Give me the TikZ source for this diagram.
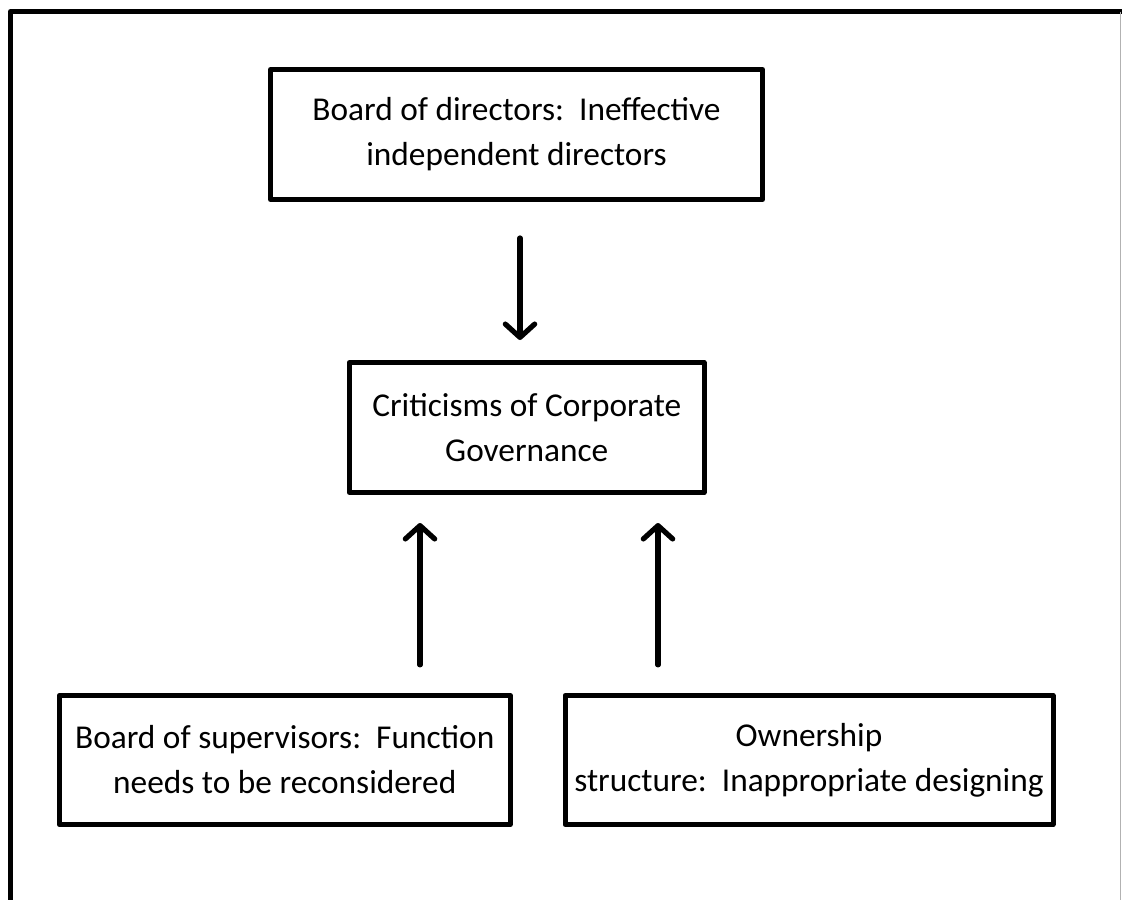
\documentclass[tikz,border=0pt]{standalone}
\usepackage{fontspec}
\setmainfont{Carlito}
\usetikzlibrary{arrows.meta}
\begin{document}
\begin{tikzpicture}[x=0.75pt, y=-0.75pt, line join=round, line cap=round,
    font=\fontsize{25}{33.75}\selectfont,
    box/.style={draw, line width=3.75pt, align=center, inner sep=0pt},
    flow/.style={line width=3.9pt, -{Straight Barb[length=10pt, width=22pt, round]}}]
    \def\lw{3.75pt}
    \useasboundingbox (0,0) rectangle (1122,900);
    % frame
    \draw[line width=\lw, line cap=butt] (10.5,900)--(10.5,11.5)--(1122,11.5);
    \draw[gray!60, line width=0.75pt, line cap=butt] (1120.5,11.5)--(1120.5,900);
    % boxes
    \node[box, minimum width=369pt, minimum height=97.5pt] (dir) at (516.5,134.5) {Board of directors:\ \ Ineffective\\independent directors};
    \node[box, minimum width=266pt, minimum height=97.5pt] (crit) at (526.75,427.5) {Criticisms of Corporate\\Governance};
    \node[box, minimum width=338pt, minimum height=97pt] (sup) at (284.75,760) {Board of supervisors:\ \ Function\\needs to be reconsidered};
    \node[box, minimum width=366pt, minimum height=97pt] (own) at (809,760) {Ownership\\structure:\ \ Inappropriate designing};
    % arrows
    \coordinate (dn) at (520,0);
    \coordinate (upL) at (420,0);
    \coordinate (upR) at (658,0);
    \draw[flow, shorten <=27pt, shorten >=15pt] (dir.south -| dn)--(crit.north -| dn);
    \foreach \c/\s in {upL/sup, upR/own}
        \draw[flow, shorten <=21pt, shorten >=21pt] (\s.north -| \c)--(crit.south -| \c);
\end{tikzpicture}
\end{document}
